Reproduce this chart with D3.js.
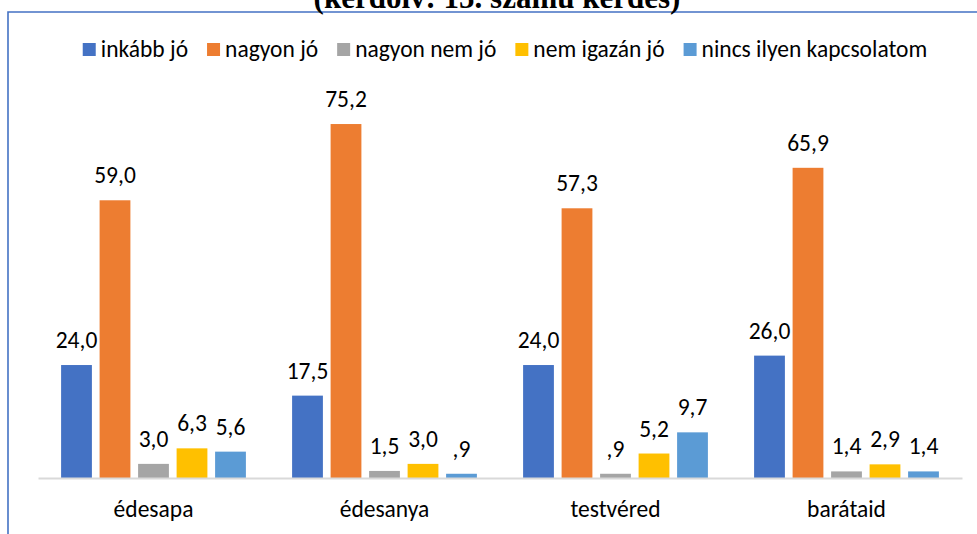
<!DOCTYPE html>
<html>
<head>
<meta charset="utf-8">
<script src="https://cdn.jsdelivr.net/npm/d3@7"></script>
<style>
  html, body { margin: 0; padding: 0; background: #fff; }
  svg { display: block; }
  .lbl { font-family: Carlito, Calibri, Lato, sans-serif; fill: #000; }
</style>
</head>
<body>
<svg width="977" height="534"></svg>
<script>
// chart data
const categories = ["édesapa", "édesanya", "testvéred", "barátaid"];
const seriesNames = ["inkább jó", "nagyon jó", "nagyon nem jó", "nem igazán jó", "nincs ilyen kapcsolatom"];
const colors = ["#4472C4", "#ED7D31", "#A5A5A5", "#FFC000", "#5B9BD5"];
const inkabbJo = [24.0, 17.5, 24.0, 26.0];
const nagyonJo = [59.0, 75.2, 57.3, 65.9];
const nagyonNemJo = [3.0, 1.5, 0.9, 1.4];
const nemIgazanJo = [6.3, 3.0, 5.2, 2.9];
const nincsIlyen = [5.6, 0.9, 9.7, 1.4];
const title = "(kérdőív: 15. számú kérdés)";

const series = [inkabbJo, nagyonJo, nagyonNemJo, nemIgazanJo, nincsIlyen];

const width = 977, height = 534;
const margin = { left: 38, right: 15, baseline: 478 };
const fontSize = "23.5px";

const svg = d3.select("svg");

// frame (only the top and left edges show)
svg.append("path")
  .attr("d", `M8,${height} V12 H${width}`)
  .attr("fill", "none")
  .attr("stroke", "#4472C4")
  .attr("stroke-width", 1.6);

// title, cut by the top edge as in the source
svg.append("text")
  .attr("x", 497)
  .attr("y", 8)
  .attr("text-anchor", "middle")
  .style("font-family", "'Liberation Serif', 'Times New Roman', serif")
  .style("font-weight", "bold")
  .style("font-size", "31px")
  .text(title);

const x0 = d3.scaleBand()
  .domain(categories)
  .range([margin.left, width - margin.right])
  .paddingInner(0.2)
  .paddingOuter(0.1);

const x1 = d3.scaleBand()
  .domain(seriesNames)
  .range([0, x0.bandwidth()])
  .paddingInner(0.2)
  .paddingOuter(0);

const y = d3.scaleLinear()
  .domain([0, 80])
  .range([margin.baseline, margin.baseline - 80 * 4.707]);

const fmt = v => d3.format(".1f")(v).replace(".", ",").replace(/^0,/, ",");

// bars
const groups = svg.selectAll(".grp")
  .data(categories)
  .enter()
  .append("g")
  .attr("class", "grp")
  .attr("transform", d => `translate(${x0(d)},0)`);

groups.selectAll("rect")
  .data((d, i) => seriesNames.map((s, j) => ({ s, j, v: series[j][i] })))
  .enter()
  .append("rect")
  .attr("x", d => x1(d.s))
  .attr("y", d => y(d.v))
  .attr("width", x1.bandwidth())
  .attr("height", d => y(0) - y(d.v))
  .attr("fill", d => colors[d.j]);

groups.selectAll("text")
  .data((d, i) => seriesNames.map((s, j) => ({ s, j, v: series[j][i] })))
  .enter()
  .append("text")
  .attr("class", "lbl")
  .attr("x", d => x1(d.s) + x1.bandwidth() / 2)
  .attr("y", d => y(d.v) - 17)
  .attr("text-anchor", "middle")
  .style("font-size", fontSize)
  .text(d => fmt(d.v));

// x axis
const xAxis = svg.append("g")
  .attr("transform", `translate(0,${margin.baseline})`)
  .call(d3.axisBottom(x0).tickSize(0).tickSizeOuter(0).tickPadding(0));
xAxis.select(".domain")
  .attr("stroke", "#D9D9D9")
  .attr("stroke-width", 2);
xAxis.selectAll("text")
  .attr("class", "lbl")
  .attr("dy", null)
  .attr("y", 39)
  .style("font-size", fontSize)
  .style("font-family", "Carlito, Calibri, Lato, sans-serif")
  .attr("fill", "#000");

// legend
const legend = svg.append("g");
let lx = 0;
seriesNames.forEach((name, i) => {
  const item = legend.append("g").attr("transform", `translate(${lx},0)`);
  item.append("rect")
    .attr("x", 0).attr("y", 43)
    .attr("width", 13).attr("height", 13)
    .attr("fill", colors[i]);
  const t = item.append("text")
    .attr("class", "lbl")
    .attr("x", 18).attr("y", 57)
    .style("font-size", fontSize)
    .text(name);
  lx += 18 + t.node().getComputedTextLength() + 19;
});
const legendWidth = lx - 19;
legend.attr("transform", `translate(${505 - legendWidth / 2},0)`);
</script>
</body>
</html>
